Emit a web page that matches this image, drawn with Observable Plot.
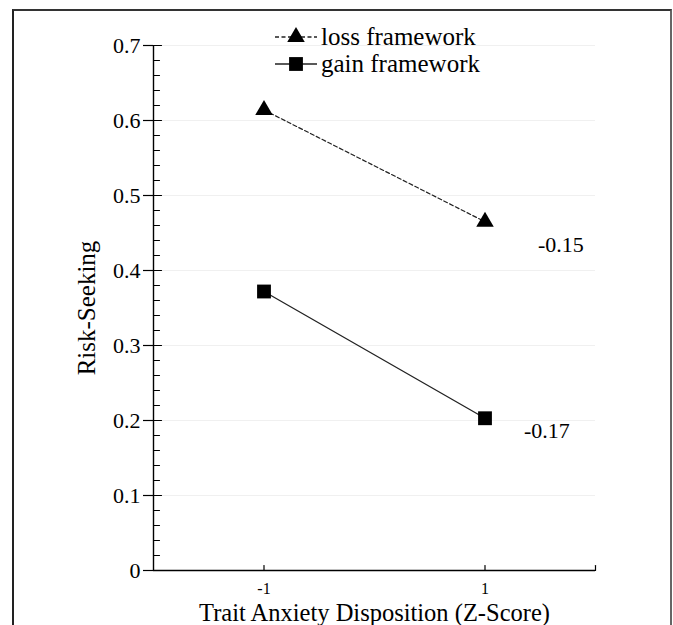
<!DOCTYPE html>
<html><head><meta charset="utf-8">
<script src="https://cdn.jsdelivr.net/npm/d3@7"></script>
<script src="https://cdn.jsdelivr.net/npm/@observablehq/plot@0.6"></script>
<style>
body{margin:0;background:#fff;}
#wrap{position:relative;width:673px;height:625px;overflow:hidden;font-family:"Liberation Serif","Times New Roman",serif;background:#fff;}
#chart{position:absolute;left:0;top:0;}
#border{position:absolute;left:12px;top:9px;width:656px;height:700px;border-left:2px solid #222;border-top:2px solid #333;border-right:2px solid #666;}
#legend{position:absolute;left:0;top:0;pointer-events:none;}
</style></head><body><div id="wrap"><div id="border"></div><div id="chart"></div></div>
<script>
const xValues = [-1, 1];
const lossValues = [0.614, 0.465];
const gainValues = [0.372, 0.203];
const seriesNames = ["loss framework", "gain framework"];
const slopeLabels = ["-0.15", "-0.17"];
const xTickLabels = [-1, 1];
const xTickMarks = [-1, 1, 2];
const yMajorTicks = [0, 0.1, 0.2, 0.3, 0.4, 0.5, 0.6, 0.7];
const yMinorTicks = [0.02,0.04,0.06,0.08,0.12,0.14,0.16,0.18,0.22,0.24,0.26,0.28,0.32,0.34,0.36,0.38,0.42,0.44,0.46,0.48,0.52,0.54,0.56,0.58,0.62,0.64,0.66,0.68];
const xTitle = "Trait Anxiety Disposition (Z-Score)";
const yTitle = "Risk-Seeking";

const lossRows = xValues.map((x, i) => ({x, y: lossValues[i], series: seriesNames[0]}));
const gainRows = xValues.map((x, i) => ({x, y: gainValues[i], series: seriesNames[1]}));

const tickShape = {draw(ctx, l) { ctx.moveTo(0, 0); ctx.lineTo(0, -l); }};
const serif = '"Liberation Serif", "Times New Roman", serif';

const chart = Plot.plot({
  width: 673, height: 625,
  marginLeft: 153, marginRight: 78, marginTop: 45, marginBottom: 55,
  style: {fontFamily: serif, color: "black", background: "transparent", overflow: "visible"},
  x: {domain: [-2, 2]},
  y: {domain: [0, 0.7]},
  marks: [
    Plot.gridY(yMajorTicks.slice(1), {stroke: "#f0f0f0", strokeOpacity: 1}),
    Plot.ruleX([-2], {y1: 0, y2: 0.7, stroke: "black", strokeWidth: 1.4}),
    Plot.ruleY([0], {x1: -2, x2: 2, stroke: "black", strokeWidth: 1.4}),
    Plot.axisY({ticks: yMajorTicks, tickSize: 10, tickPadding: 3, fontSize: 22, label: null, strokeWidth: 1.2, tickFormat: d => String(d)}),
    Plot.vector(yMajorTicks, {x: -2, y: d => d, length: 8, rotate: 90, anchor: "start", shape: tickShape, stroke: "black", strokeWidth: 1.2}),
    Plot.vector(yMinorTicks, {x: -2, y: d => d, length: 6, rotate: 90, anchor: "start", shape: tickShape, stroke: "black", strokeWidth: 1.1}),
    Plot.axisX({ticks: xTickLabels, tickSize: 0, tickPadding: 12, fontSize: 16, label: null, tickFormat: d => String(d)}),
    Plot.vector(xTickMarks, {x: d => d, y: 0, length: 5, rotate: 0, anchor: "start", shape: tickShape, stroke: "black", strokeWidth: 1.2}),
    Plot.line(lossRows, {x: "x", y: "y", stroke: "#222", strokeWidth: 1.2, strokeDasharray: "4,2.5"}),
    Plot.line(gainRows, {x: "x", y: "y", stroke: "#222", strokeWidth: 1.3}),
    Plot.dot(lossRows, {x: "x", y: "y", symbol: "triangle", r: 6.5, fill: "black", stroke: "none"}),
    Plot.dot(gainRows, {x: "x", y: "y", symbol: "square", r: 7.8, fill: "black", stroke: "none"}),
    Plot.text([lossRows[1]], {x: "x", y: "y", text: () => slopeLabels[0], textAnchor: "start", dx: 53, dy: 23, fontSize: 22, fill: "black"}),
    Plot.text([gainRows[1]], {x: "x", y: "y", text: () => slopeLabels[1], textAnchor: "start", dx: 39, dy: 13, fontSize: 22, fill: "black"}),
    Plot.text([xTitle], {frameAnchor: "bottom", dy: 50, fontSize: 24.5, fill: "black"}),
    Plot.text([yTitle], {frameAnchor: "left", textAnchor: "middle", lineAnchor: "middle", rotate: -90, dx: -67, fontSize: 25, fill: "black"})
  ]
});
document.getElementById("chart").appendChild(chart);

// legend overlay
const leg = d3.select("#wrap").append("svg").attr("id", "legend").attr("width", 673).attr("height", 625);
const legendItems = [
  {name: seriesNames[0], symbol: d3.symbolTriangle, r: 6.5, dash: "4,2.5"},
  {name: seriesNames[1], symbol: d3.symbolSquare, r: 7.8, dash: null}
];
legendItems.forEach((it, i) => {
  const g = leg.append("g").attr("transform", `translate(296, ${37 + i * 27})`);
  g.append("line").attr("x1", -21).attr("x2", 21).attr("y1", 0).attr("y2", 0)
    .attr("stroke", "#222").attr("stroke-width", 1.3).attr("stroke-dasharray", it.dash);
  g.append("path").attr("d", d3.symbol(it.symbol, it.r * it.r * Math.PI)()).attr("fill", "black");
  g.append("text").attr("x", 25).attr("y", 0).attr("dy", "0.32em")
    .attr("font-family", serif).attr("font-size", 25)
    .attr("fill", "black").text(it.name);
});
</script>
</body></html>
